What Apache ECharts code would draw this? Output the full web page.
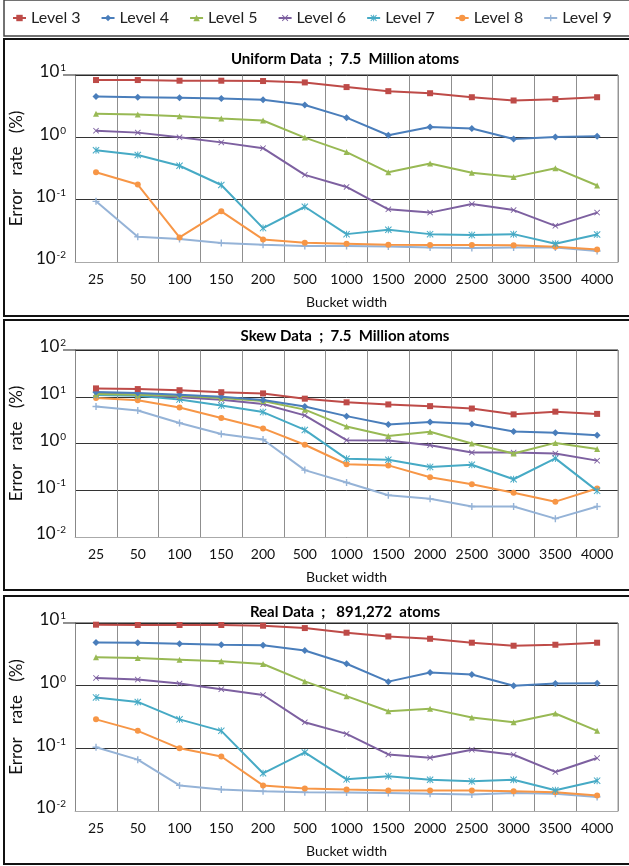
<!DOCTYPE html>
<html>
<head>
<meta charset="utf-8">
<script src="https://cdn.jsdelivr.net/npm/echarts@6/dist/echarts.min.js"></script>
<style>
html,body{margin:0;padding:0;background:#fff;}
#main{width:629px;height:866px;}
</style>
</head>
<body>
<div id="main"></div>
<script>
const categories = ['25','50','100','150','200','500','1000','1500','2000','2500','3000','3500','4000'];
const levelNames = ['Level 3','Level 4','Level 5','Level 6','Level 7','Level 8','Level 9'];
const panelTitles = ['Uniform Data  ;  7.5  Million atoms', 'Skew Data  ;  7.5  Million atoms', 'Real Data  ;   891,272  atoms'];
const yMax = [10, 100, 10];
const yMin = [0.01, 0.01, 0.01];

// Uniform data
const uniformL3 = [8.3, 8.3, 8.1, 8.1, 8.0, 7.6, 6.4, 5.5, 5.1, 4.4, 3.9, 4.1, 4.4];
const uniformL4 = [4.5, 4.4, 4.3, 4.2, 4.0, 3.3, 2.07, 1.08, 1.46, 1.39, 0.94, 1.01, 1.04];
const uniformL5 = [2.38, 2.32, 2.18, 2.0, 1.86, 0.99, 0.58, 0.275, 0.38, 0.27, 0.23, 0.32, 0.169];
const uniformL6 = [1.28, 1.19, 1.0, 0.83, 0.67, 0.25, 0.16, 0.070, 0.062, 0.085, 0.068, 0.038, 0.062];
const uniformL7 = [0.62, 0.52, 0.35, 0.172, 0.035, 0.077, 0.028, 0.033, 0.028, 0.027, 0.028, 0.0196, 0.0276];
const uniformL8 = [0.275, 0.175, 0.0248, 0.065, 0.023, 0.0204, 0.0196, 0.0189, 0.0187, 0.0187, 0.0185, 0.0176, 0.0159];
const uniformL9 = [0.094, 0.0254, 0.0233, 0.0201, 0.0189, 0.018, 0.0181, 0.0178, 0.0171, 0.0168, 0.0171, 0.0171, 0.015];

// Skew data
const skewL3 = [15.1, 14.6, 13.8, 12.5, 11.8, 9.1, 7.6, 6.85, 6.3, 5.6, 4.2, 4.8, 4.3];
const skewL4 = [12.6, 12.0, 11.0, 10.0, 8.5, 6.2, 3.85, 2.55, 2.9, 2.6, 1.81, 1.69, 1.5];
const skewL5 = [11.5, 11.0, 10.5, 9.4, 8.1, 5.3, 2.3, 1.44, 1.78, 1.0, 0.61, 1.03, 0.76];
const skewL6 = [11.8, 11.2, 9.8, 8.6, 7.0, 4.0, 1.18, 1.16, 0.92, 0.64, 0.64, 0.61, 0.43];
const skewL7 = [10.9, 10.5, 8.7, 6.5, 4.7, 1.95, 0.47, 0.45, 0.316, 0.35, 0.172, 0.48, 0.097];
const skewL8 = [9.4, 8.4, 5.9, 3.5, 2.1, 0.94, 0.36, 0.34, 0.19, 0.135, 0.088, 0.057, 0.109];
const skewL9 = [6.2, 5.1, 2.75, 1.6, 1.22, 0.27, 0.146, 0.078, 0.066, 0.045, 0.045, 0.0247, 0.045];

// Real data
const realL3 = [9.4, 9.3, 9.3, 9.3, 9.05, 8.3, 7.0, 6.1, 5.6, 4.85, 4.34, 4.5, 4.85];
const realL4 = [4.9, 4.85, 4.68, 4.5, 4.4, 3.65, 2.24, 1.16, 1.62, 1.51, 1.0, 1.08, 1.09];
const realL5 = [2.85, 2.77, 2.6, 2.45, 2.22, 1.17, 0.68, 0.39, 0.43, 0.31, 0.26, 0.36, 0.19];
const realL6 = [1.33, 1.25, 1.08, 0.88, 0.71, 0.26, 0.17, 0.080, 0.071, 0.095, 0.079, 0.042, 0.070];
const realL7 = [0.65, 0.55, 0.29, 0.19, 0.040, 0.086, 0.032, 0.036, 0.0316, 0.0297, 0.0316, 0.0215, 0.0305];
const realL8 = [0.29, 0.19, 0.1, 0.074, 0.0256, 0.0229, 0.022, 0.0213, 0.0213, 0.0213, 0.0207, 0.020, 0.0177];
const realL9 = [0.104, 0.066, 0.0256, 0.022, 0.0207, 0.020, 0.0198, 0.0193, 0.0188, 0.0184, 0.0193, 0.0188, 0.0168];

const panels = [
  [uniformL3, uniformL4, uniformL5, uniformL6, uniformL7, uniformL8, uniformL9],
  [skewL3, skewL4, skewL5, skewL6, skewL7, skewL8, skewL9],
  [realL3, realL4, realL5, realL6, realL7, realL8, realL9]
];

const colors = ['#BE4B48', '#4A7EBB', '#98B954', '#7D60A0', '#46AAC5', '#F79646', '#95B3D7'];
const xPath = 'path://M0,1L1,0L5,4L9,0L10,1L6,5L10,9L9,10L5,6L1,10L0,9L4,5Z';
const plusPath = 'path://M4,0H6V4H10V6H6V10H4V6H0V4H4Z';
const starPath = 'path://M0,1L1,0L5,4L9,0L10,1L6,5L10,9L9,10L5,6L1,10L0,9L4,5Z M4.3,0H5.7V10H4.3Z';
const symbols = ['rect', 'diamond', 'triangle', xPath, starPath, 'circle', plusPath];
const symbolSizes = [6, 7, 6, 6, 7, 6, 7];

const FONT = 'Lato, "Open Sans", sans-serif';

const gridDefs = [
  {left: 63, top: 75, width: 555, height: 187},
  {left: 63, top: 350, width: 555, height: 187},
  {left: 63, top: 623, width: 555, height: 188}
];
const titleTops = [47, 324, 600];
const boxes = [[4, 39, 630, 277], [4, 320, 630, 270], [4, 596, 630, 268]];

const chart = echarts.init(document.getElementById('main'), null, {renderer: 'canvas'});

const xAxes = [], yAxes = [], series = [], titles = [], graphics = [];

graphics.push({type: 'rect', shape: {x: 4, y: 0, width: 630, height: 36}, style: {fill: 'none', stroke: '#444', lineWidth: 1.5}, z: 0, silent: true});
boxes.forEach(b => graphics.push({type: 'rect', shape: {x: b[0], y: b[1], width: b[2], height: b[3]}, style: {fill: 'none', stroke: '#111', lineWidth: 2}, z: 0, silent: true}));

gridDefs.forEach((g, i) => {
  titles.push({
    text: panelTitles[i], left: 340, top: titleTops[i], textAlign: 'center',
    textStyle: {fontFamily: FONT, fontSize: 15, fontWeight: 'bold', color: '#000'}
  });
  graphics.push({type: 'line', shape: {x1: g.left, y1: g.top, x2: g.left + g.width, y2: g.top}, style: {stroke: '#222', lineWidth: 1.2}, z: 1, silent: true});
  graphics.push({type: 'line', shape: {x1: g.left + g.width, y1: g.top, x2: g.left + g.width, y2: g.top + g.height}, style: {stroke: '#999', lineWidth: 1}, z: 1, silent: true});
  xAxes.push({
    type: 'category', gridIndex: i, data: categories, boundaryGap: true,
    name: 'Bucket width', nameLocation: 'middle', nameGap: 33,
    nameTextStyle: {fontFamily: FONT, fontSize: 14, color: '#111'},
    axisLine: {show: true, lineStyle: {color: '#aaa', width: 1}},
    axisTick: {show: false},
    axisLabel: {interval: 0, margin: 10, fontFamily: FONT, fontSize: 14, color: '#111'},
    splitLine: {show: true, interval: 0, lineStyle: {color: '#8f8f8f', width: 1}}
  });
  yAxes.push({
    type: 'log', logBase: 10, gridIndex: i, min: yMin[i], max: yMax[i],
    name: 'Error   rate   (%)', nameLocation: 'middle', nameGap: 44, nameRotate: 90,
    nameTextStyle: {fontFamily: FONT, fontSize: 17, color: '#111'},
    axisLine: {show: true, lineStyle: {color: '#888', width: 1}},
    axisTick: {show: false},
    axisLabel: {
      margin: 9, fontFamily: FONT, fontSize: 17, color: '#111', padding: [0, 0, 6, 0],
      formatter: v => '10{s|' + Math.round(Math.log10(v)) + '}',
      rich: {s: {fontFamily: FONT, fontSize: 10, color: '#111', verticalAlign: 'top', padding: [0, 0, 8, 1]}}
    },
    splitLine: {show: true, lineStyle: {color: '#333', width: 1}}
  });
  panels[i].forEach((vals, k) => {
    series.push({
      type: 'line', name: levelNames[k], xAxisIndex: i, yAxisIndex: i,
      data: vals, symbol: symbols[k], symbolSize: symbolSizes[k], showSymbol: true,
      color: colors[k], lineStyle: {width: 2, color: colors[k]},
      itemStyle: {color: colors[k]}, z: 3 + (6 - k) * 0.01, animation: false
    });
  });
});

chart.setOption({
  animation: false,
  backgroundColor: '#fff',
  title: titles,
  legend: {
    data: levelNames, left: 7, top: 5, itemWidth: 13, itemHeight: 8, itemGap: 20,
    textStyle: {fontFamily: FONT, fontSize: 16, color: '#222'}
  },
  grid: gridDefs,
  xAxis: xAxes,
  yAxis: yAxes,
  series: series,
  graphic: graphics
});
</script>
</body>
</html>
